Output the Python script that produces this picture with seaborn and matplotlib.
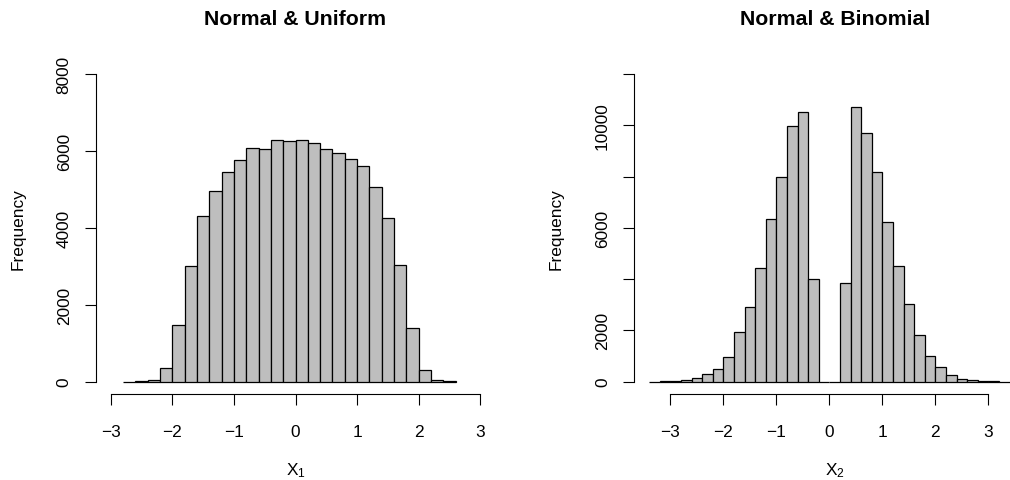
import numpy as np
import pandas as pd
import matplotlib
matplotlib.use("Agg")
import matplotlib.pyplot as plt
import seaborn as sns

# ---- data ----
# Left: Normal & Uniform, bins of width 0.2 from -2.8 to 2.6
left_breaks = [-2.8, -2.6, -2.4, -2.2, -2.0, -1.8, -1.6, -1.4, -1.2, -1.0, -0.8,
               -0.6, -0.4, -0.2, 0.0, 0.2, 0.4, 0.6, 0.8, 1.0, 1.2, 1.4, 1.6,
               1.8, 2.0, 2.2, 2.4, 2.6]
left_counts = [3, 10, 43, 347, 1473, 3016, 4299, 4957, 5460, 5772, 6067, 6041,
               6292, 6266, 6283, 6197, 6058, 5937, 5781, 5599, 5070, 4264, 3042,
               1404, 312, 43, 8]

# Right: Normal & Binomial, bins of width 0.2 from -3.4 to 3.6
right_breaks = [-3.4, -3.2, -3.0, -2.8, -2.6, -2.4, -2.2, -2.0, -1.8, -1.6, -1.4,
                -1.2, -1.0, -0.8, -0.6, -0.4, -0.2, 0.0, 0.2, 0.4, 0.6, 0.8, 1.0,
                1.2, 1.4, 1.6, 1.8, 2.0, 2.2, 2.4, 2.6, 2.8, 3.0, 3.2, 3.4, 3.6]
right_counts = [5, 10, 25, 52, 130, 312, 507, 975, 1924, 2912, 4446, 6357, 7969,
                9984, 10504, 4004, 0, 0, 3835, 10725, 9685, 8177, 6240, 4511, 3042,
                1807, 1014, 559, 247, 104, 52, 39, 13, 6, 3]

x_ticks = [-3, -2, -1, 0, 1, 2, 3]
x_ticklabels = ["\u22123", "\u22122", "\u22121", "0", "1", "2", "3"]
left_yticks = [0, 2000, 4000, 6000, 8000]
left_ylabels = ["0", "2000", "4000", "6000", "8000"]
right_yticks = [0, 2000, 4000, 6000, 8000, 10000, 12000]
right_ylabels = ["0", "2000", "", "6000", "", "10000", ""]

titles = ["Normal & Uniform", "Normal & Binomial"]
xlabels = [r"$\mathregular{X_1}$", r"$\mathregular{X_2}$"]

sns.set_style("ticks")
plt.rcParams["font.family"] = ["Liberation Sans", "DejaVu Sans"]
plt.rcParams["mathtext.fontset"] = "custom"
plt.rcParams["mathtext.rm"] = "Liberation Sans"
for k in ["text.color", "axes.labelcolor", "xtick.color", "ytick.color", "axes.edgecolor"]:
    plt.rcParams[k] = "black"

W, H = 1010, 481
fig = plt.figure(figsize=(W / 100, H / 100), dpi=100)
ax1 = fig.add_axes([96 / W, 86 / H, 399 / W, 332.3 / H])
ax2 = fig.add_axes([634.3 / W, 86 / H, 400.7 / W, 332.3 / H])

panels = [
    (ax1, left_breaks, left_counts, (-3.24, 3.24), (-320, 8320), left_yticks, left_ylabels),
    (ax2, right_breaks, right_counts, (-3.68, 3.88), (-480, 12480), right_yticks, right_ylabels),
]

for i, (ax, br, cnt, xl, yl, yt, ytl) in enumerate(panels):
    edges = np.array(br, dtype=float)
    df = pd.DataFrame({"x": (edges[:-1] + edges[1:]) / 2, "n": cnt})
    sns.histplot(data=df, x="x", weights="n", bins=list(edges), color="#BEBEBE",
                 edgecolor="black", linewidth=0.9, alpha=1, ax=ax)
    ax.set_xlim(*xl)
    ax.set_ylim(*yl)
    for s in ["top", "right"]:
        ax.spines[s].set_visible(False)
    for s in ["left", "bottom"]:
        ax.spines[s].set_color("black")
        ax.spines[s].set_linewidth(0.8)
    ax.spines["bottom"].set_bounds(-3, 3)
    ax.spines["left"].set_bounds(yt[0], yt[-1])
    ax.set_xticks(x_ticks)
    ax.set_xticklabels(x_ticklabels)
    ax.set_yticks(yt)
    ax.set_yticklabels(ytl, rotation=90, va="center")
    ax.tick_params(axis="both", which="major", bottom=True, left=True,
                   direction="out", length=7.9, width=0.8,
                   color="black", labelsize=12.4, labelcolor="black")
    ax.tick_params(axis="x", pad=14)
    ax.tick_params(axis="y", pad=9.6)
    ax.grid(False)
    ax.set_ylabel("Frequency", fontsize=12.4)
    axw = ax.get_position().width * W
    ax.yaxis.set_label_coords(-78 / axw, 0.5)
    ax.yaxis.label.set_va("center")
    ax.set_xlabel(xlabels[i], fontsize=12.4)
    ax.xaxis.set_label_coords(0.5, (395 - 471) / 332.3)
    ax.xaxis.label.set_va("center")
    ax.text(0.5, (395 - 19.5) / 332.3, titles[i], transform=ax.transAxes,
            ha="center", va="center", fontsize=15.3, fontweight="bold")

fig.savefig("out.png", dpi=100)
